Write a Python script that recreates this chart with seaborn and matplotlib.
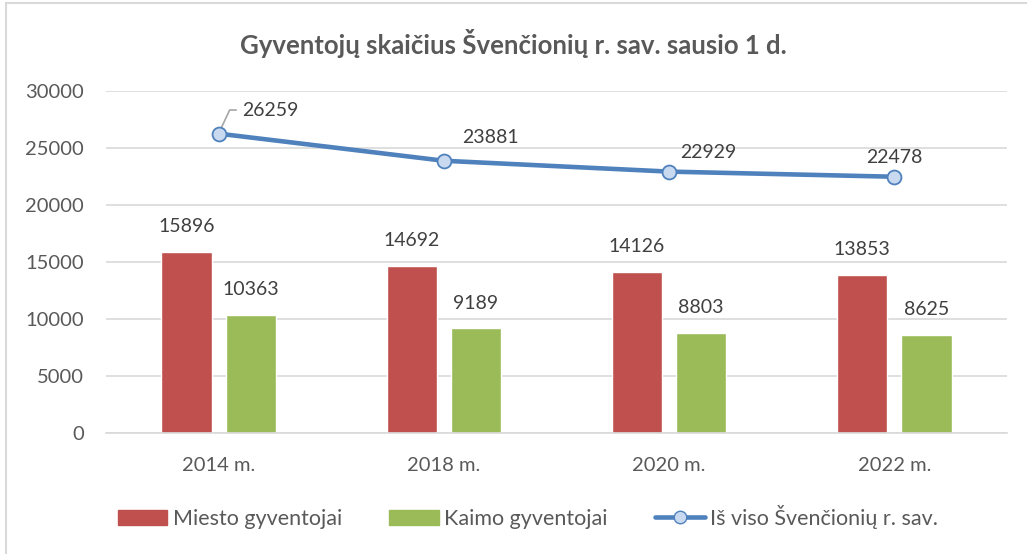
import numpy as np
import pandas as pd
import seaborn as sns
import matplotlib.pyplot as plt
from matplotlib.patches import Rectangle, Patch
from matplotlib.lines import Line2D

years = ['2014 m.', '2018 m.', '2020 m.', '2022 m.']
miesto = [15896, 14692, 14126, 13853]
kaimo = [10363, 9189, 8803, 8625]
is_viso = [26259, 23881, 22929, 22478]

series_names = ['Miesto gyventojai', 'Kaimo gyventojai', 'Iš viso Švenčionių r. sav.']
title = 'Gyventojų skaičius Švenčionių r. sav. sausio 1 d.'

red = '#C0504D'
green = '#9BBB59'
blue = '#4F81BD'
txt = '#595959'

sns.set_theme(style='white')
plt.rcParams['font.family'] = ['Lato', 'DejaVu Sans']

df = pd.DataFrame({
    'metai': years * 2,
    'gyv': miesto + kaimo,
    'tipas': [series_names[0]] * 4 + [series_names[1]] * 4,
})

fig = plt.figure(figsize=(10.27, 5.54), dpi=100)
ax = fig.add_axes([106 / 1027, 1 - 433 / 554, 901 / 1027, 342 / 554])

# chart frame
fig.patches.append(Rectangle((6 / 1027, -0.05), 1.2, 1 - 2.5 / 554 + 0.05,
                             transform=fig.transFigure, fill=False,
                             edgecolor='#D9D9D9', linewidth=1.5))

sns.barplot(data=df, x='metai', y='gyv', hue='tipas', palette=[red, green],
            width=0.57, gap=0.22, saturation=1, legend=False, ax=ax)

for cont in ax.containers:
    ax.bar_label(cont, fmt='%d', padding=12, fontsize=14, color='#404040')

xs = np.arange(len(years))
ax.plot(xs, is_viso, color=blue, linewidth=3.3, marker='o', markersize=10,
        markerfacecolor='#C9DAF0', markeredgecolor=blue, markeredgewidth=1.3,
        zorder=5, solid_capstyle='round')

label_offsets = [(17, 17), (13, 16.5), (8, 14), (0, 14)]
for i, (v, off) in enumerate(zip(is_viso, label_offsets)):
    if i == 0:
        ax.annotate(str(v), (xs[i], v), xytext=off, textcoords='offset points',
                    ha='left', va='center', fontsize=14, color='#404040',
                    arrowprops=dict(arrowstyle='-', color='#A6A6A6', lw=1.2,
                                    shrinkA=2, shrinkB=2, relpos=(0, 0.5),
                                    connectionstyle='angle,angleA=0,angleB=65,rad=0'))
    else:
        ax.annotate(str(v), (xs[i], v), xytext=off, textcoords='offset points',
                    ha='center' if off[0] == 0 else 'left', va='center',
                    fontsize=14, color='#404040')

ax.set_ylim(0, 30000)
ax.set_yticks(np.arange(0, 30001, 5000))
ax.set_xlim(-0.5, 3.5)
ax.grid(axis='y', color='#D9D9D9', linewidth=1.2)
ax.set_axisbelow(True)
for s in ['top', 'right', 'left']:
    ax.spines[s].set_visible(False)
ax.spines['bottom'].set_color('#D9D9D9')
ax.spines['bottom'].set_linewidth(1.2)
ax.tick_params(axis='both', length=0, labelsize=14.5, labelcolor=txt)
ax.tick_params(axis='y', pad=16)
ax.tick_params(axis='x', pad=17)
ax.set_xlabel('')
ax.set_ylabel('')

fig.text(0.5, 1 - 44 / 554, title, ha='center', va='center', fontsize=18.5,
         fontweight='bold', color=txt)

handles = [Patch(color=red), Patch(color=green),
           Line2D([0], [0], color=blue, linewidth=3.3, marker='o', markersize=9,
                  markerfacecolor='#C9DAF0', markeredgecolor=blue)]
fig.legend(handles, series_names, loc='center', bbox_to_anchor=(0.514, 1 - 517 / 554),
           ncol=3, frameon=False, fontsize=15.5, labelcolor=txt, handlelength=2.3,
           handleheight=0.7, handletextpad=0.25, columnspacing=2.2)

fig.savefig('out.png', dpi=100)
